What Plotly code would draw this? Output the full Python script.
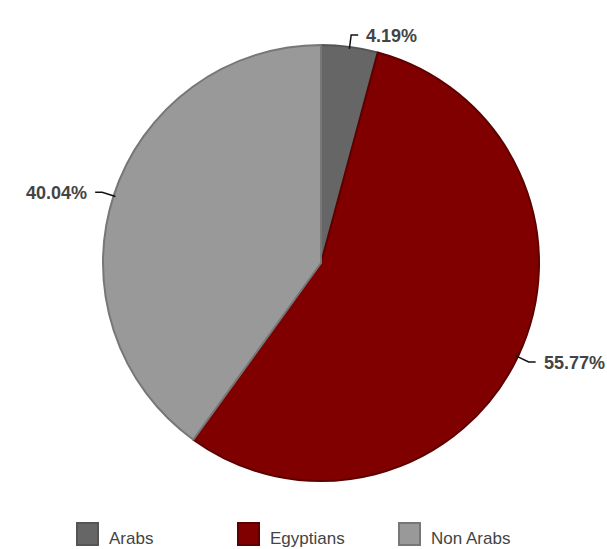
import math
import plotly.graph_objects as go

# ---- data ----
categories = ["Arabs", "Egyptians", "Non Arabs"]
values = [4.19, 55.77, 40.04]
label_texts = ["4.19%", "55.77%", "40.04%"]

# ---- style ----
colors = ["#666666", "#800000", "#999999"]
line_colors = ["#555555", "#5e0000", "#777777"]
W, H = 607, 549
CX, CY, R = 321, 263, 218

def px(x):
    return x / W

def py(y):
    return 1 - y / H

fig = go.Figure()
fig.add_trace(go.Pie(
    labels=categories,
    values=values,
    sort=False,
    direction="clockwise",
    rotation=0,
    textinfo="none",
    hoverinfo="label+percent",
    marker=dict(colors=colors, line=dict(color=line_colors, width=2)),
    domain=dict(x=[px(CX - R), px(CX + R)], y=[py(CY + R), py(CY - R)]),
    showlegend=False,
))

shapes = []
annotations = []
total = sum(values)
cum = 0.0
for val, txt in zip(values, label_texts):
    mid = (cum + val / 2) / total * 2 * math.pi
    cum += val
    dx, dy = math.sin(mid), -math.cos(mid)
    p0 = (CX + (R - 2) * dx, CY + (R - 2) * dy)
    p1 = (CX + (R + 12) * dx, CY + (R + 12) * dy)
    side = 1 if dx >= 0 else -1
    p2 = (p1[0] + side * 7, p1[1])
    path = f"M{px(p0[0])},{py(p0[1])} L{px(p1[0])},{py(p1[1])} L{px(p2[0])},{py(p2[1])}"
    shapes.append(dict(type="path", xref="paper", yref="paper", path=path,
                       line=dict(color="#111111", width=1.5)))
    annotations.append(dict(
        x=px(p2[0] + side * 6), y=py(p2[1] + 1), xref="paper", yref="paper",
        text=f"<b>{txt}</b>", showarrow=False,
        xanchor="left" if side > 0 else "right", yanchor="middle",
        font=dict(family="Liberation Sans, Arial, sans-serif", size=18, color="#444444"),
    ))

# ---- legend (custom, larger swatches) ----
leg_x0, leg_step, sq = 77, 161, 21
leg_top = 523
for i, (cat, col, lc) in enumerate(zip(categories, colors, line_colors)):
    x0 = leg_x0 + i * leg_step
    shapes.append(dict(type="rect", xref="paper", yref="paper",
                       x0=px(x0), x1=px(x0 + sq), y0=py(leg_top), y1=py(leg_top + sq + 1),
                       fillcolor=col, line=dict(color=lc, width=2)))
    annotations.append(dict(
        x=px(x0 + 30), y=py(538), xref="paper", yref="paper",
        text=cat, showarrow=False, xanchor="left", yanchor="middle",
        font=dict(family="Liberation Sans, Arial, sans-serif", size=17, color="#444444"),
    ))

fig.update_layout(
    width=W, height=H, autosize=False,
    margin=dict(l=0, r=0, t=0, b=0),
    paper_bgcolor="white", plot_bgcolor="white",
    shapes=shapes, annotations=annotations,
    showlegend=False,
)

fig.write_html(
    "out.html",
    config={"displayModeBar": False},
    post_script="document.body.style.margin='0';document.body.style.overflow='hidden';",
)
